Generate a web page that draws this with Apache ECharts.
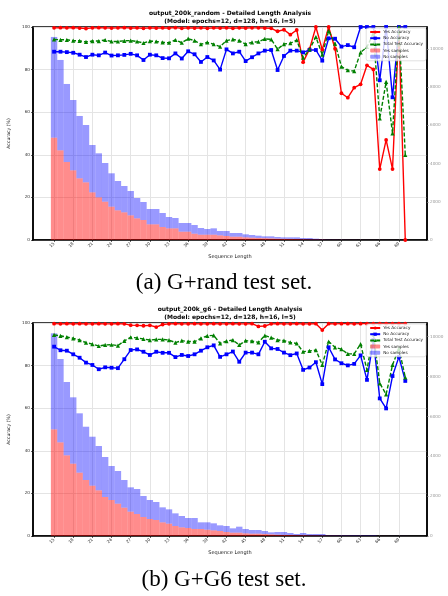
<!DOCTYPE html>
<html>
<head>
<meta charset="utf-8">
<script src="https://cdn.jsdelivr.net/npm/echarts@6/dist/echarts.min.js"></script>
<style>
html,body{margin:0;padding:0;background:#fff;}
#chart{width:448px;height:596px;}
</style>
</head>
<body>
<div id="chart"></div>
<script>
// ---------- DATA ----------
const seqLen = [15,16,17,18,19,20,21,22,23,24,25,26,27,28,29,30,31,32,33,34,35,36,37,38,39,40,41,42,43,44,45,46,47,48,49,50,51,52,53,54,55,56,57,58,59,60,61,62,63,64,65,66,67,68,69,70];
const xTickLabels = [15,18,21,24,27,30,33,36,39,42,45,48,51,54,57,60,63,66,69];

// Panel (a): G+rand
const titleA = "output_200k_random - Detailed Length Analysis\n(Model: epochs=12, d=128, h=16, l=5)";
const captionA = "(a) G+rand test set.";
const yesAccA = [99.6,99.7,99.6,99.7,99.5,99.3,99.6,99.7,99.6,99.5,99.6,99.7,99.5,99.6,99.4,99.6,99.5,99.6,99.5,99.7,99.4,99.6,99.5,99.6,99.4,99.6,99.5,99.6,99.4,99.6,99.5,99.6,99.6,99.5,99.4,98.0,98.7,96.4,98.6,83.5,89.6,100,89.4,100,89.8,68.9,66.8,71.5,73.1,82.0,80.1,33.3,47.0,33.3,100,0];
const noAccA = [88.4,88.4,88.2,87.9,87.0,85.9,87.0,86.7,88.0,86.6,86.7,86.9,87.4,86.7,84.5,87.0,86.7,85.4,85.3,87.6,85.2,88.6,87.2,83.6,85.9,84.3,80.0,89.5,87.6,88.4,84.0,85.8,87.6,88.9,89.2,79.8,86.4,88.9,88.9,88.1,89.2,89.2,84.2,94.7,94.5,90.8,91.5,90.5,100,100,100,75.0,100,67.0,100,100];
const totalAccA = [94.2,94.0,94.0,93.6,93.5,93.0,93.4,93.4,93.9,93.2,93.2,93.5,93.6,93.2,92.5,93.4,93.2,92.8,92.6,93.9,92.6,94.5,93.6,91.9,92.8,91.9,90.8,93.6,94.2,93.6,92.0,92.8,93.1,94.4,94.2,89.6,92.0,92.4,93.8,85.6,89.5,95.3,87.0,98.2,92.2,81.4,79.7,79.3,88.1,90.6,97.0,57.1,74.2,50.1,100,39.9];
const yesSamplesA = [5357,4695,4084,3648,3229,3019,2496,2234,2007,1745,1553,1449,1291,1134,1047,821,821,681,611,611,436,436,331,279,279,279,244,209,174,174,140,122,105,95,87,70,60,55,50,40,35,30,20,10,10,8,7,6,5,4,4,3,3,3,2,1];
const noSamplesA = [5272,4730,4084,3682,3264,3002,2478,2304,2025,1746,1536,1378,1275,1065,943,802,802,733,593,541,454,454,454,349,297,332,227,262,193,193,157,140,122,97,105,87,80,85,90,65,70,40,15,12,10,8,7,6,5,4,4,3,3,3,2,2];

// Panel (b): G+G6
const titleB = "output_200k_g6 - Detailed Length Analysis\n(Model: epochs=12, d=128, h=16, l=5)";
const captionB = "(b) G+G6 test set.";
const yesAccB = [99.7,99.6,99.7,99.6,99.7,99.6,99.6,99.7,99.6,99.6,99.7,99.6,99.0,98.9,98.7,98.9,98.1,99.3,99.6,99.7,99.6,99.6,99.7,99.6,99.6,99.7,99.6,99.6,99.7,99.6,99.6,99.7,98.4,98.6,99.6,99.7,99.6,99.6,99.7,99.6,99.6,99.7,96.7,99.7,99.6,99.7,99.7,99.6,99.7,99.7,99.7,99.7,99.7,99.7,99.7,99.7];
const noAccB = [88.9,87.2,87.0,85.3,83.7,81.4,80.3,78.3,79.2,79.0,78.8,83.0,87.3,87.6,86.5,85.0,86.5,86.0,86.0,84.0,85.0,84.5,85.3,87.0,88.6,89.5,84.1,85.3,86.6,81.8,86.1,86.1,85.3,91.2,88.1,87.8,86.1,84.9,85.7,78.0,79.1,81.6,71.3,88.6,82.9,81.1,80.1,80.8,84.8,73.3,92.0,64.6,59.9,75.1,84.1,72.8];
const totalAccB = [94.4,94.0,93.4,92.8,92.0,90.8,90.1,89.2,89.7,89.8,89.4,91.6,93.3,93.0,92.5,92.0,92.3,92.3,92.0,90.8,91.7,91.3,91.3,92.8,94.0,94.2,90.4,91.5,92.0,89.7,91.7,91.5,90.9,94.1,93.1,92.0,91.7,90.9,90.4,86.5,86.9,87.3,80.3,91.3,88.6,87.7,85.5,85.5,90.1,78.0,95.0,71.7,66.5,80.3,88.1,74.5];
const yesSamplesB = [5353,4700,4048,3630,3178,2810,2525,2292,1957,1806,1622,1422,1221,1104,953,853,803,686,619,502,435,401,351,351,318,284,251,201,168,168,134,117,117,100,84,67,55,50,40,40,30,30,25,15,15,12,12,10,10,8,8,3,3,2,2,2];
const noSamplesB = [4818,4182,3680,3330,2979,2675,2458,2224,2007,1707,1640,1388,1221,1254,1054,953,903,752,719,635,569,502,552,335,368,352,284,301,217,300,217,184,184,151,100,134,146,101,60,111,70,70,75,20,20,23,23,25,25,27,27,3,3,4,4,4];

// ---------- CHART ----------
const chart = echarts.init(document.getElementById('chart'), null, {renderer: 'canvas'});

const pair = (arr) => seqLen.map((x, i) => [x, arr[i]]);
// bars: value first so that it is the stacked dimension
const barPair = (arr) => seqLen.map((x, i) => [arr[i], x]);
const tickFont = 4.2;

function panel(gi, top, rightMax, accY, accN, accT, sY, sN) {
  const grid = {left: 33, top: top, width: 394, height: 213, outerBoundsMode: 'none', containLabel: false,
                show: true, borderColor: '#000', borderWidth: 1.5, backgroundColor: 'transparent'};
  const xAxis = {
    type: 'value', gridIndex: gi, min: 11.7, max: 73.4,
    axisLine: {show: true, onZero: false, lineStyle: {color: '#000', width: 1.5}},
    axisTick: {show: true, customValues: xTickLabels, length: 2, lineStyle: {color: '#000', width: 0.6}},
    axisLabel: {customValues: xTickLabels, rotate: 45, fontSize: tickFont, color: '#333', margin: 3, fontFamily: 'DejaVu Sans'},
    splitLine: {show: true, lineStyle: {color: '#e4e4e4', width: 1}},
    name: 'Sequence Length', nameLocation: 'middle', nameGap: 14,
    nameTextStyle: {fontSize: 5, color: '#222', fontFamily: 'DejaVu Sans'}
  };
  const yLeft = {
    type: 'value', gridIndex: gi, min: 0, max: 100, interval: 20, position: 'left',
    axisLine: {show: true, lineStyle: {color: '#000', width: 1.5}},
    axisTick: {show: true, length: 2, lineStyle: {color: '#000', width: 0.6}},
    axisLabel: {fontSize: tickFont, color: '#333', margin: 3, fontFamily: 'DejaVu Sans'},
    splitLine: {show: true, lineStyle: {color: '#e4e4e4', width: 1}},
    name: 'Accuracy (%)', nameLocation: 'middle', nameGap: 15, nameRotate: 90,
    nameTextStyle: {fontSize: 4.6, color: '#222', fontFamily: 'DejaVu Sans'}
  };
  const yRight = {
    type: 'value', gridIndex: gi, min: 0, max: rightMax, interval: 2000, position: 'right',
    axisLine: {show: true, lineStyle: {color: '#000', width: 1.5}},
    axisTick: {show: true, length: 2, lineStyle: {color: '#999', width: 0.6}},
    axisLabel: {fontSize: tickFont, color: '#999', margin: 3, showMaxLabel: false, formatter: v => String(v), fontFamily: 'DejaVu Sans'},
    splitLine: {show: false},
    name: 'Number of Samples', nameLocation: 'middle', nameGap: 20, nameRotate: 90,
    nameTextStyle: {fontSize: 4.6, color: '#bbb', fontFamily: 'DejaVu Sans'}
  };
  const yIdx = gi * 2;
  const series = [
    {name: 'Yes samples', type: 'bar', xAxisIndex: gi, yAxisIndex: yIdx + 1, stack: 's' + gi, data: barPair(sY), encode: {x: 1, y: 0}, barWidth: 6.4,
     itemStyle: {color: 'rgba(255,0,0,0.45)'}, z: 1, silent: true},
    {name: 'No samples', type: 'bar', xAxisIndex: gi, yAxisIndex: yIdx + 1, stack: 's' + gi, data: barPair(sN), encode: {x: 1, y: 0}, barWidth: 6.4,
     itemStyle: {color: 'rgba(0,0,255,0.4)'}, z: 1, silent: true},
    {name: 'Yes Accuracy', type: 'line', xAxisIndex: gi, yAxisIndex: yIdx, data: pair(accY), symbol: 'circle', symbolSize: 3.8,
     lineStyle: {color: '#ff0000', width: 1.4}, itemStyle: {color: '#ff0000'}, z: 3},
    {name: 'No Accuracy', type: 'line', xAxisIndex: gi, yAxisIndex: yIdx, data: pair(accN), symbol: 'rect', symbolSize: 3.8,
     lineStyle: {color: '#0000ff', width: 1.4}, itemStyle: {color: '#0000ff'}, z: 3},
    {name: 'Total Test Accuracy', type: 'line', xAxisIndex: gi, yAxisIndex: yIdx, data: pair(accT), symbol: 'triangle', symbolSize: 4.2,
     lineStyle: {color: '#008000', width: 1.4, type: [4, 2]}, itemStyle: {color: '#008000'}, z: 3}
  ];
  const legend = {
    orient: 'vertical', right: 22, top: top + 1, z: 20,
    data: ['Yes Accuracy', 'No Accuracy', 'Total Test Accuracy', 'Yes samples', 'No samples'],
    itemWidth: 10, itemHeight: 4, itemGap: 2.2, padding: [2, 3, 2, 3],
    backgroundColor: 'rgba(255,255,255,0.8)', borderColor: '#ccc', borderWidth: 0.6, borderRadius: 2,
    textStyle: {fontSize: 4.2, color: '#222', padding: [0, 0, 0, -2], fontFamily: 'DejaVu Sans'}
  };
  return {grid, xAxis, yAxes: [yLeft, yRight], series, legend};
}

const pA = panel(0, 27, 11150, yesAccA, noAccA, totalAccA, yesSamplesA, noSamplesA);
const pB = panel(1, 323, 10690, yesAccB, noAccB, totalAccB, yesSamplesB, noSamplesB);

const option = {
  animation: false,
  backgroundColor: '#fff',
  title: [
    {text: titleA, left: 230, top: 10, textAlign: 'center', padding: 0,
     textStyle: {fontSize: 6, fontWeight: 'bold', color: '#000', lineHeight: 7.5, fontFamily: 'DejaVu Sans'}},
    {text: titleB, left: 230, top: 306, textAlign: 'center', padding: 0,
     textStyle: {fontSize: 6, fontWeight: 'bold', color: '#000', lineHeight: 7.5, fontFamily: 'DejaVu Sans'}},
    {text: captionA, left: 224, top: 271, textAlign: 'center', padding: 0,
     textStyle: {fontSize: 23, fontWeight: 'normal', color: '#000', fontFamily: 'Liberation Serif'}},
    {text: captionB, left: 224, top: 568, textAlign: 'center', padding: 0,
     textStyle: {fontSize: 23, fontWeight: 'normal', color: '#000', fontFamily: 'Liberation Serif'}}
  ],
  grid: [pA.grid, pB.grid],
  xAxis: [pA.xAxis, pB.xAxis],
  yAxis: [pA.yAxes[0], pA.yAxes[1], pB.yAxes[0], pB.yAxes[1]],
  legend: [pA.legend, pB.legend],
  series: pA.series.concat(pB.series)
};
chart.setOption(option);
</script>
</body>
</html>
